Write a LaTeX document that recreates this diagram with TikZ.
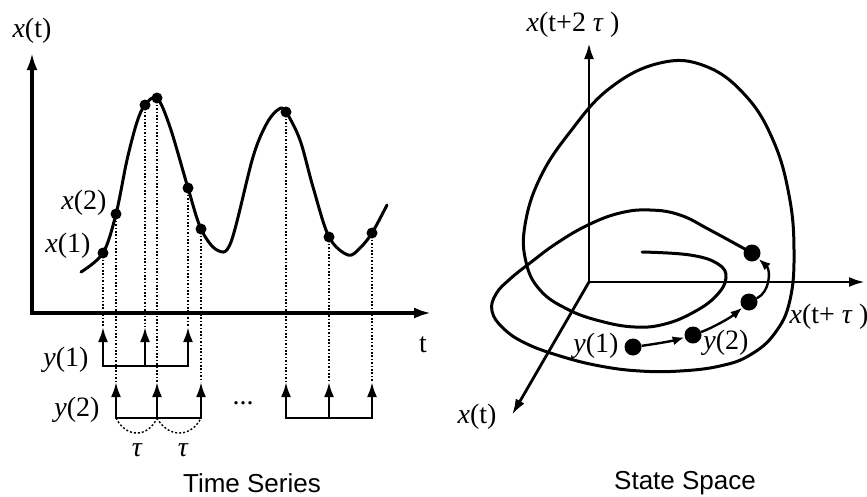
\documentclass[tikz,border=0pt]{standalone}
\usepackage{fontspec}
\setmainfont{Liberation Serif}
\newfontfamily\capfont{Liberation Sans}
\usetikzlibrary{arrows.meta,positioning}

\begin{document}
\begin{tikzpicture}[
  x=1pt, y=-1pt,
  axis/.style={line width=3.2pt, {Latex[length=17pt,width=11pt]}-{Latex[length=17pt,width=11pt]}},
  axisone/.style={line width=2.8pt, -{Latex[length=16pt,width=10pt]}},
  curve/.style={line width=3pt, line join=round, line cap=round},
  dot/.style={circle, fill=black, inner sep=0pt, minimum size=11pt},
  bigdot/.style={circle, fill=black, inner sep=0pt, minimum size=17pt},
  guide/.style={line width=1.3pt, dash pattern=on 1.6pt off 1.8pt},
  sample/.style={line width=2.6pt, -{Latex[length=15pt,width=10pt]}},
  bracket/.style={line width=2.6pt, {Latex[length=15pt,width=10pt]}-{Latex[length=15pt,width=10pt]}},
  flow/.style={line width=2.4pt, -{Latex[length=12pt,width=9pt]}},
  lag/.style={line width=1.4pt, dash pattern=on 2pt off 2pt},
  lbl/.style={font=\fontsize{28}{32}\selectfont, inner sep=0pt},
  caption/.style={font=\capfont\fontsize{26}{30}\selectfont, inner sep=0pt, anchor=base}
]
\useasboundingbox (0,0) rectangle (867,496);

% Time series: axes
\coordinate (ytip) at (32,53);
\coordinate (xtip) at (431,313);
\draw[axis] (ytip) |- (xtip);
\node[lbl] (xlab) at (32,31) {{\itshape x}(t)};
\node[lbl] (tlab) at (423,345) {t};

% Time series: signal
\draw[curve] plot[smooth, tension=0.55] coordinates {
  (81,272) (103,253) (116,214) (127,160) (137,122) (145,105) (157,98)
  (170,127) (188,188) (201,229) (217,250) (231,242) (253,157) (267,123)
  (279,109) (286,112) (300,140) (313,187) (329,237) (348,255) (360,248)
  (372,233) (387,205)};

% Samples
\node[dot] (s1) at (103,253) {};
\node[dot] (s2) at (116,214) {};
\node[dot] (s3) at (145,105) {};
\node[dot] (s4) at (157,98) {};
\node[dot] (s5) at (188,188) {};
\node[dot] (s6) at (201,229) {};
\node[dot] (s7) at (286,112) {};
\node[dot] (s8) at (329,237) {};
\node[dot] (s9) at (372,233) {};
\node[lbl] (x1lab) at (68,246) {{\itshape x}(1)};
\node[lbl] (x2lab) at (84,203) {{\itshape x}(2)};

% Arrow tips and bar corners
\coordinate (a1) at (103,327); \coordinate (b1) at (103,366);
\coordinate (a3) at (145,327); \coordinate (b3) at (145,366);
\coordinate (a5) at (188,327); \coordinate (b5) at (188,366);
\foreach \i/\x in {2/116,4/157,6/201,7/286,8/329,9/372} {
  \coordinate (a\i) at (\x,382);
  \coordinate (b\i) at (\x,418);
}

\foreach \i in {1,...,9}
  \draw[guide] (s\i.center) -- (a\i);

% Delay vectors
\draw[bracket] (a1) -- (b1) -- (b5) -- (a5);
\draw[sample] (b3) -- (a3);
\draw[bracket] (a2) -- (b2) -- (b6) -- (a6);
\draw[sample] (b4) -- (a4);
\draw[bracket] (a7) -- (b7) -- (b9) -- (a9);
\draw[sample] (b8) -- (a8);
\node[lbl] (y1lab) at (66,360) {{\itshape y}(1)};
\node[lbl] (y2lab) at (77,410) {{\itshape y}(2)};
\node[lbl] (more) at (243,403) {...};

% Lags
\draw[lag] (b2) .. controls (126,438) and (148,438) .. (b4);
\draw[lag] (b4) .. controls (168,438) and (191,438) .. (b6);
\node[lbl] (tau1) at (137,450) {\itshape τ};
\node[lbl] (tau2) at (183,450) {\itshape τ};

\node[caption] (tscap) at (252,492) {Time Series};

% State space: axes
\coordinate (org) at (589,282);
\coordinate (ztip) at (589,43);
\coordinate (htip) at (865,282);
\coordinate (dtip) at (512,415);
\draw[axisone] (org) -- (ztip);
\draw[axisone] (org) -- (htip);
\draw[axisone] (org) -- (dtip);
\node[lbl] (zlab) at (573,25) {{\itshape x}(t+2 {\itshape τ} )};
\node[lbl] (hlab) at (829,317) {{\itshape x}(t+ {\itshape τ} )};
\node[lbl] (dlab) at (477,417) {{\itshape x}(t)};

% State space: trajectory
\draw[curve] plot[smooth, tension=0.7] coordinates {
  (642,252) (690,255) (718,264) (726,278) (716,296) (694,312) (665,324)
  (635,327) (600,321) (567,309) (540,290) (526,262) (525,225) (540,178)
  (570,132) (610,88) (660,63) (705,66) (745,95) (773,140) (789,195)
  (794,250) (790,300) (775,333) (750,355) (720,366) (680,371) (640,371)
  (600,366) (560,356) (525,343) (503,328) (492,311) (496,294) (510,279)
  (530,263) (557,243) (588,225) (620,213) (650,210) (680,215) (710,230)
  (752,253)};

% Embedded points
\node[bigdot] (r1) at (633,347) {};
\node[bigdot] (r2) at (693,335) {};
\node[bigdot] (r3) at (749,302) {};
\node[bigdot] (r4) at (752,253) {};
\draw[flow] (r1) .. controls (655,344) and (672,341) .. (r2);
\draw[flow] (r2) .. controls (712,328) and (730,318) .. (r3);
\draw[flow] (r3) .. controls (770,292) and (771,270) .. (r4);
\node[lbl] (p1lab) at (596,346) {{\itshape y}(1)};
\node[lbl] (p2lab) at (726,343) {{\itshape y}(2)};

\node[caption] (sscap) at (685,489) {State Space};
\end{tikzpicture}
\end{document}
